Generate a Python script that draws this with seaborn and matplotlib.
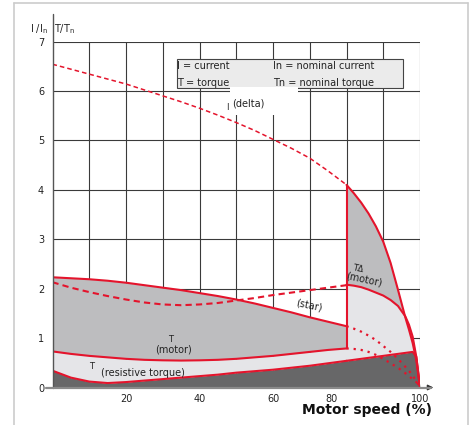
import matplotlib
matplotlib.use('Agg')
import matplotlib.pyplot as plt
from matplotlib.patches import Rectangle
from matplotlib.lines import Line2D
import seaborn as sns
import numpy as np

# speed axis (%) before / after the star-delta switch
x_lo = [0, 5, 10, 15, 20, 25, 30, 35, 40, 45, 50, 55, 60, 65, 70, 75, 80]
x_hi = [80, 82, 84, 86, 88, 90, 92, 94, 96, 97, 98, 99, 100]

# current / torque in star and delta (per unit)
i_delta_lo = [6.54, 6.44, 6.34, 6.24, 6.14, 6.02, 5.90, 5.78, 5.65, 5.51, 5.36, 5.20, 5.02, 4.84, 4.64, 4.38, 4.10]
t_delta_lo = [2.13, 2.02, 1.93, 1.85, 1.78, 1.72, 1.68, 1.665, 1.68, 1.71, 1.76, 1.81, 1.87, 1.92, 1.97, 2.02, 2.07]
i_star_lo = [2.23, 2.21, 2.19, 2.16, 2.12, 2.07, 2.02, 1.97, 1.91, 1.85, 1.78, 1.70, 1.61, 1.52, 1.42, 1.33, 1.24]
t_star_lo = [0.73, 0.68, 0.64, 0.61, 0.58, 0.56, 0.55, 0.545, 0.55, 0.56, 0.58, 0.61, 0.64, 0.68, 0.72, 0.76, 0.79]
t_res_lo = [0.34, 0.20, 0.12, 0.09, 0.11, 0.14, 0.17, 0.20, 0.23, 0.26, 0.30, 0.33, 0.36, 0.40, 0.44, 0.49, 0.54]

i_delta_hi = [4.10, 3.93, 3.74, 3.52, 3.26, 2.95, 2.52, 1.98, 1.42, 1.17, 0.90, 0.55, 0.0]
t_delta_hi = [2.08, 2.06, 2.03, 1.98, 1.92, 1.86, 1.77, 1.65, 1.44, 1.27, 1.03, 0.62, 0.0]
i_star_hi = [1.24, 1.19, 1.13, 1.05, 0.96, 0.84, 0.72, 0.58, 0.42, 0.34, 0.24, 0.13, 0.0]
t_star_hi = [0.79, 0.78, 0.76, 0.72, 0.66, 0.58, 0.49, 0.40, 0.29, 0.23, 0.17, 0.11, 0.0]
t_res_hi = [0.54, 0.56, 0.58, 0.60, 0.62, 0.64, 0.66, 0.68, 0.70, 0.71, 0.72, 0.73, 0.74]

switch_speed = 80
xtick_pos = [20, 40, 60, 76, 100]
xtick_labels = ['20', '40', '60', '80', '100']
yticks = [0, 1, 2, 3, 4, 5, 6, 7]

RED = '#e4142c'
DARK = '#676768'
MID = '#bdbdbf'
LIGHT = '#e5e5e8'
GRID = '#3a3a3a'
TXT = '#222222'

sns.set_style('white')
plt.rcParams['font.family'] = ['DejaVu Sans']

fig = plt.figure(figsize=(4.73, 4.25), dpi=100)
ax = fig.add_axes([52.5 / 473, 37.5 / 425, 367.5 / 473, 346 / 425])
ax.set_xlim(0, 100)
ax.set_ylim(0, 7)
for s in ax.spines.values():
    s.set_visible(False)

# grid
ax.hlines(yticks[1:], 0, 100, color=GRID, lw=0.8, zorder=0.5)
ax.vlines(np.arange(10, 101, 10), 0, 7, color=GRID, lw=0.8, zorder=0.5)

xl = np.array(x_lo)
xh = np.array(x_hi)
t_res_cut = np.minimum(t_res_hi, t_delta_hi)

# filled areas
ax.fill_between(xl, 0, t_res_lo, color=DARK, lw=0, zorder=1)
ax.fill_between(xh, 0, t_res_cut, color=DARK, lw=0, zorder=1)
ax.fill_between(xl, t_res_lo, t_star_lo, color=LIGHT, lw=0, zorder=1)
ax.fill_between(xh, t_res_cut, t_delta_hi, color=LIGHT, lw=0, zorder=1)
ax.fill_between(xl, t_star_lo, i_star_lo, color=MID, lw=0, zorder=1)
ax.fill_between(xh, t_delta_hi, i_delta_hi, color=MID, lw=0, zorder=1)

# curves
solid = dict(color=RED, linewidth=1.5, ax=ax, zorder=3)
sns.lineplot(x=xl, y=i_star_lo, **solid)
sns.lineplot(x=xl, y=t_star_lo, **solid)
sns.lineplot(x=xl, y=t_res_lo, **solid)
sns.lineplot(x=xh, y=t_res_cut, **solid)
sns.lineplot(x=xh, y=i_delta_hi, **solid)
sns.lineplot(x=xh, y=t_delta_hi, **solid)
ax.vlines(switch_speed, t_star_lo[-1], i_delta_lo[-1], color=RED, lw=1.5, zorder=3)

sns.lineplot(x=xl, y=i_delta_lo, color=RED, linewidth=1.1, linestyle=(0, (3, 2)), ax=ax, zorder=3)
sns.lineplot(x=xl, y=t_delta_lo, color=RED, linewidth=1.5, linestyle=(0, (3, 2)), ax=ax, zorder=3)
sns.lineplot(x=xh, y=i_star_hi, color=RED, linewidth=1.6, linestyle=(0, (1, 2.2)), ax=ax, zorder=3)
sns.lineplot(x=xh, y=t_star_hi, color=RED, linewidth=1.6, linestyle=(0, (1, 2.2)), ax=ax, zorder=3)

# legend box and white patch under it
ax.add_patch(Rectangle((33.9, 6.06), 61.5, 0.59, facecolor='#ebebeb', edgecolor='#444444', lw=0.8, zorder=2))
ax.add_patch(Rectangle((48.3, 5.52), 18.5, 0.56, facecolor='white', edgecolor='none', zorder=2.5))
ax.text(34.0, 6.51, 'I = current', fontsize=7, va='center', color=TXT, zorder=4)
ax.text(34.0, 6.16, 'T = torque', fontsize=7, va='center', color=TXT, zorder=4)
ax.text(60.0, 6.51, 'In = nominal current', fontsize=7, va='center', color=TXT, zorder=4)
ax.text(60.0, 6.16, 'Tn = nominal torque', fontsize=7, va='center', color=TXT, zorder=4)

# curve labels
ax.text(47.2, 5.66, 'I', fontsize=6, va='center', color=TXT, zorder=4)
ax.text(53.3, 5.74, '(delta)', fontsize=7, ha='center', va='center', color=TXT, zorder=4)
ax.text(69.7, 1.67, '(star)', fontsize=7, ha='center', va='center', rotation=-12, color=TXT, zorder=4)
ax.text(84.8, 2.19, '(motor)', fontsize=7, ha='center', va='center', rotation=-12, color=TXT, zorder=4)
ax.text(83.0, 2.40, 'TΔ', fontsize=6, ha='center', va='center', rotation=-12, color=TXT, zorder=4)
ax.text(32.9, 0.76, '(motor)', fontsize=7, ha='center', va='center', color=TXT, zorder=4)
ax.text(32.0, 0.88, 'T', fontsize=6, ha='center', va='bottom', color=TXT, zorder=4)
ax.text(10.7, 0.42, 'T', fontsize=6, ha='center', va='center', color=TXT, zorder=4)
ax.text(24.6, 0.30, '(resistive torque)', fontsize=7, ha='center', va='center', color=TXT, zorder=4)

# axes lines
ax.plot([0, 0], [0, 7.55], color='#555555', lw=1.0, clip_on=False, zorder=4)
ax.plot([-1.7, 103], [0, 0], color='#8a8a8a', lw=1.6, clip_on=False, zorder=4)
ax.annotate('', xy=(104.4, 0), xytext=(102, 0), annotation_clip=False,
            arrowprops=dict(arrowstyle='-|>', color='#333333', lw=1, mutation_scale=8))

ax.set_xticks(xtick_pos)
ax.set_xticklabels(xtick_labels)
ax.set_yticks(yticks)
ax.tick_params(length=0, labelsize=7, colors=TXT)
ax.tick_params(axis='x', pad=5)
ax.tick_params(axis='y', pad=6)

ax.text(-3.7, 7.25, r'I /I$_\mathregular{n}$', fontsize=7, ha='center', va='center', color=TXT, clip_on=False)
ax.text(3.4, 7.25, r'T/T$_\mathregular{n}$', fontsize=7, ha='center', va='center', color=TXT, clip_on=False)

fig.text(366.5 / 473, 1 - 410 / 425, 'Motor speed (%)', fontsize=10, fontweight='bold',
         ha='center', va='center', color='#111111')

# light frame around figure
for xs, ys in [([14 / 473, 14 / 473], [0, 1 - 3 / 425]),
               ([14 / 473, 468 / 473], [1 - 3 / 425, 1 - 3 / 425]),
               ([468 / 473, 468 / 473], [1 - 3 / 425, 0])]:
    fig.add_artist(Line2D(xs, ys, color='#cccccc', lw=1.2))

fig.savefig('out.png', dpi=100)
